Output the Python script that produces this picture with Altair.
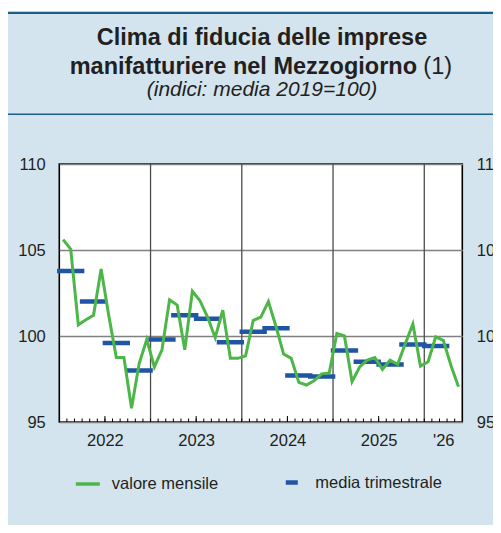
import altair as alt
import pandas as pd

# ---- data ----
months_2022 = [105.6, 105.05, 100.65, 100.95, 101.2, 103.9, 101.2, 98.75, 98.75, 95.8, 98.4, 99.8]
months_2023 = [98.2, 99.2, 102.1, 101.8, 99.2, 102.6, 102.05, 101.1, 99.9, 101.5, 98.7, 98.7]
months_2024 = [98.85, 100.9, 101.1, 102.0, 100.55, 98.95, 98.7, 97.3, 97.15, 97.4, 97.8, 97.85]
months_2025 = [100.15, 100.0, 97.35, 98.2, 98.6, 98.75, 98.05, 98.6, 98.35, 99.55, 100.7, 98.25]
months_2026 = [98.5, 99.95, 99.75, 98.3, 97.05]
quarterly = [103.78, 102.0, 99.6, 98.0, 99.8, 101.2, 101.0, 99.63,
             100.25, 100.45, 97.7, 97.65, 99.15, 98.5, 98.35, 99.5, 99.42]
year_labels = ["2022", "2023", "2024", "2025", "'26"]
year_label_pos = [6, 18, 30, 42, 50.5]
year_bounds = [12, 24, 36, 48]
mid_year_ticks = [6, 18, 30, 42]
y_ticks = [95, 100, 105, 110]
series_names = ["valore mensile", "media trimestrale"]
title_lines = ["Clima di fiducia delle imprese", "manifatturiere nel Mezzogiorno", "(1)",
               "(indici: media 2019=100)"]

GREEN = "#4cb748"
BLUE = "#1f55a4"
PANEL = "#d3e4ee"
DARKBLUE = "#1b5e8c"
TEXT = "#231f20"
FONT = "Liberation Sans"

monthly_vals = months_2022 + months_2023 + months_2024 + months_2025 + months_2026
n_months = len(monthly_vals)
mdf = pd.DataFrame({
    "m": [i + 0.5 for i in range(n_months)],
    "v": monthly_vals,
    "serie": series_names[0],
})
qdf = pd.DataFrame({
    "q0": [3 * q for q in range(len(quarterly))],
    "q1": [3 * q + 3 for q in range(len(quarterly))],
    "v": quarterly,
    "serie": series_names[1],
})
xscale = alt.Scale(domain=[0, 53], nice=False, zero=False)
yscale = alt.Scale(domain=[95, 110], nice=False, zero=False)

label_expr = " : ".join(
    f"datum.value == {p} ? \"{l}\"" for p, l in zip(year_label_pos, year_labels)
) + " : ''"

x_axis = alt.Axis(values=year_label_pos, labelExpr=label_expr, ticks=False,
                  tickSize=0, domain=False, grid=False, labelFontSize=16.5,
                  labelFont=FONT, labelColor=TEXT, labelBaseline="middle",
                  labelPadding=18, labelFlush=False, labelOverlap=False, title=None)

W, H = 403, 258

line = alt.Chart(mdf).mark_line(strokeWidth=3, strokeJoin="miter").encode(
    x=alt.X("m:Q", scale=xscale, axis=x_axis, title=None),
    y=alt.Y("v:Q", scale=yscale, title=None,
            axis=alt.Axis(orient="left", values=y_ticks, ticks=False, tickSize=0,
                          domain=False, grid=True, gridColor="#808080", gridWidth=1.3,
                          labelFontSize=16.5, labelFont=FONT, labelColor=TEXT,
                          labelPadding=14)),
    color=alt.Color("serie:N", scale=alt.Scale(domain=[series_names[0]], range=[GREEN]),
                    legend=alt.Legend(orient="none", legendX=14.5, legendY=306, title=None,
                                      symbolType="stroke", symbolSize=576,
                                      symbolStrokeWidth=3.5, labelFontSize=16.5,
                                      labelFont=FONT, labelColor=TEXT, labelOffset=10,
                                      padding=0)),
)

quarters = alt.Chart(qdf).mark_rule(color=BLUE, strokeWidth=4.5, strokeCap="square").encode(
    x=alt.X("q0:Q", scale=xscale, axis=x_axis, title=None),
    x2="q1:Q",
    y=alt.Y("v:Q", scale=yscale, title=None,
            axis=alt.Axis(orient="right", values=y_ticks, ticks=False, tickSize=0,
                          domain=False, grid=False, labelFontSize=16.5, labelFont=FONT,
                          labelColor=TEXT, labelPadding=14, labelAlign="left")),
    strokeDash=alt.StrokeDash("serie:N",
                              scale=alt.Scale(domain=[series_names[1]], range=[[1, 0]]),
                              legend=alt.Legend(orient="none", legendX=224, legendY=310,
                                                title=None, symbolType="stroke",
                                                symbolSize=144, symbolStrokeWidth=4.3,
                                                symbolStrokeColor=BLUE, labelFontSize=16.5,
                                                labelFont=FONT, labelColor=TEXT,
                                                labelOffset=15, padding=0)),
)

ygrid = alt.Chart(pd.DataFrame({"b": year_bounds})).mark_rule(
    color="#4d4d4d", strokeWidth=1.3).encode(
    x=alt.X("b:Q", scale=xscale, axis=x_axis, title=None))

ticks_small = alt.Chart(pd.DataFrame({"t": list(range(1, 53))})).mark_rule(
    color="#000", strokeWidth=1).encode(
    x=alt.X("t:Q", scale=xscale, axis=x_axis, title=None),
    y=alt.value(H), y2=alt.value(H - 3.5))

ticks_mid = alt.Chart(pd.DataFrame({"t": mid_year_ticks})).mark_rule(
    color="#000", strokeWidth=1).encode(
    x=alt.X("t:Q", scale=xscale, axis=x_axis, title=None),
    y=alt.value(H), y2=alt.value(H - 6))

one = pd.DataFrame({"a": [0]})
deco = alt.layer(
    alt.Chart(one).mark_rule(color="white", strokeWidth=3.8).encode(
        x=alt.value(-52), x2=alt.value(440), y=alt.value(-154.1)),
    alt.Chart(one).mark_rule(color=DARKBLUE, strokeWidth=2.3).encode(
        x=alt.value(-51.3), x2=alt.value(440), y=alt.value(-151.1)),
    alt.Chart(one).mark_rule(color=DARKBLUE, strokeWidth=1.5).encode(
        x=alt.value(-51.3), x2=alt.value(440), y=alt.value(-49.7)),
)

tdf = pd.DataFrame({"t": title_lines})
titles = alt.layer(
    alt.Chart(tdf).transform_filter(alt.datum.t == title_lines[0]).mark_text(
        font=FONT, fontSize=23.5, fontWeight="bold", color=TEXT, align="center",
        baseline="middle").encode(x=alt.value(202.7), y=alt.value(-126), text="t:N"),
    alt.Chart(tdf).transform_filter(alt.datum.t == title_lines[1]).mark_text(
        font=FONT, fontSize=23.5, fontWeight="bold", color=TEXT, align="right",
        baseline="middle").encode(x=alt.value(357.7), y=alt.value(-97.3), text="t:N"),
    alt.Chart(tdf).transform_filter(alt.datum.t == title_lines[2]).mark_text(
        font=FONT, fontSize=23.5, color=TEXT, align="left",
        baseline="middle").encode(x=alt.value(364), y=alt.value(-97.3), text="t:N"),
    alt.Chart(tdf).transform_filter(alt.datum.t == title_lines[3]).mark_text(
        font=FONT, fontSize=21, fontStyle="italic", color=TEXT, align="center",
        baseline="middle").encode(x=alt.value(202.7), y=alt.value(-74), text="t:N"),
)

chart = alt.layer(deco, titles, ygrid, ticks_small, ticks_mid, quarters, line).resolve_axis(
    y="independent"
).resolve_legend(color="independent", strokeDash="independent").properties(
    width=W, height=H,
    background=PANEL,
    padding={"left": 51.3, "top": 156, "right": 30.7, "bottom": 103},
    autosize=alt.AutoSizeParams(type="none"),
).configure_view(
    stroke="#000", strokeWidth=1.6, fill="white"
)

chart.save("out.html", embed_options={"renderer": "svg", "actions": False})
